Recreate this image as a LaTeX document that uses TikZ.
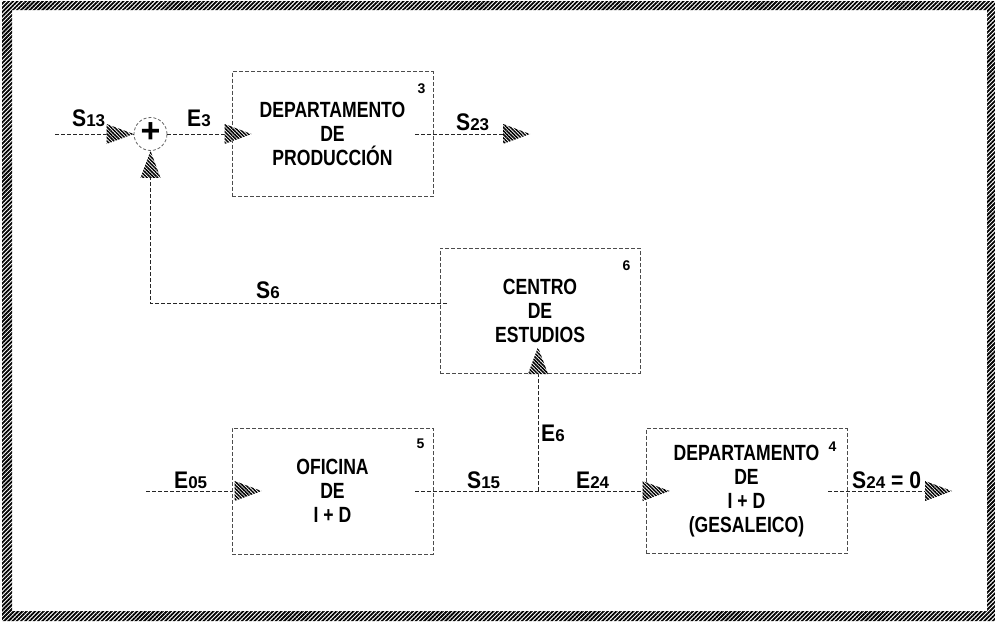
\documentclass[tikz,border=0pt]{standalone}
\usepackage{fontspec}
\setmainfont{Liberation Sans}[FakeStretch=0.8]
\newfontfamily\plainsans{Liberation Sans}
\newfontfamily\labfont{Liberation Sans}[FakeStretch=0.88]
\usetikzlibrary{patterns.meta,calc}
\newcommand{\sig}[2]{{\fontsize{24}{24}\selectfont #1}{\plainsans\bfseries\fontsize{17}{17}\selectfont #2}}
\tikzset{
  hatchtip/.pic={
    \fill[white] (0,0) -- (-27,-10) -- (-27,10) -- cycle;
    \fill[pattern={Lines[angle=-45,distance=2.5pt,line width=1.5pt]}] (0,0) -- (-27,-10) -- (-27,10) -- cycle;
  },
  conn/.style={draw=black!85, line width=0.9pt, dash pattern=on 4pt off 2pt},
  boxnode/.style={draw=black!70, line width=0.9pt, dash pattern=on 4pt off 2pt,
    minimum width=201pt, minimum height=125pt, align=center, inner sep=0pt,
    font=\bfseries\fontsize{22}{24}\selectfont},
  num/.style={font=\plainsans\bfseries\fontsize{14}{14}\selectfont, inner sep=0pt},
  lab/.style={font=\labfont\bfseries, inner sep=0pt, anchor=base west},
}
\begin{document}
\begin{tikzpicture}[x=1pt,y=-1pt]
\useasboundingbox (0,0) rectangle (995,621);
% frame
\fill[pattern={Lines[angle=45,distance=3pt,line width=1.8pt]}, even odd rule]
  (2,1) rectangle (995,621) (12,10) rectangle (987,611);

% boxes
\node[boxnode] (box3) at (332.5,134) {DEPARTAMENTO\\DE\\PRODUCCIÓN};
\node[boxnode, minimum width=200pt] (box6) at (540,310.5) {CENTRO\\DE\\ESTUDIOS};
\node[boxnode, minimum height=126pt] (box5) at (332.5,491) {OFICINA\\DE\\I + D};
\node[boxnode] (box4) at (746.5,491) {DEPARTAMENTO\\DE\\I + D\\(GESALEICO)};

\node[num] (n3) at ($(box3.north east)+(-12,18)$) {3};
\node[num] (n6) at ($(box6.north east)+(-14,18)$) {6};
\node[num] (n5) at ($(box5.north east)+(-13,16)$) {5};
\node[num] (n4) at ($(box4.north east)+(-15,19)$) {4};

% summing junction
\node[circle, draw=black!60, line width=0.8pt, dash pattern=on 3pt off 2pt,
  minimum size=33pt, inner sep=0pt] (sum) at (150.5,134) {};
\node[inner sep=0pt, font=\plainsans\bfseries\fontsize{34}{34}\selectfont] (plus) at (150.5,133) {+};

% coordinates
\coordinate (s13in) at (55,134);
\coordinate (s23a) at ($(box3.east)+(-18,0)$);
\coordinate (s23tip) at (530,134);
\coordinate (s6a) at (447,303);
\coordinate (e6foot) at (538,491);
\coordinate (e05in) at (146,491);
\coordinate (s15a) at ($(box5.east)+(-18,0)$);
\coordinate (s24a) at ($(box4.east)+(-19,0)$);
\coordinate (s24tip) at (952,491);

% connectors
\draw[conn] (s13in) -- (sum.west);
\draw[conn] (sum.east) -- (box3.west);
\draw[conn] (s23a) -- ($(s23tip)+(-27,0)$);
\draw[conn] (s6a) -- (s6a -| sum) -- (sum.south);
\draw[conn] (e6foot) -- (e6foot |- box6.south);
\draw[conn] (e05in) -- (box5.west);
\draw[conn] (s15a) -- (box4.west);
\draw[conn] (s24a) -- ($(s24tip)+(-27,0)$);

% arrowheads
\pic at (sum.west) {hatchtip};
\pic at ($(box3.west)+(20,0)$) {hatchtip};
\pic at (s23tip) {hatchtip};
\pic[rotate=90] at (sum.south) {hatchtip};
\pic[rotate=90] at (538,347) {hatchtip};
\pic at ($(box5.west)+(30,0)$) {hatchtip};
\pic at ($(box4.west)+(24,0)$) {hatchtip};
\pic at (s24tip) {hatchtip};

% labels
\node[lab] (ls13) at (72,126) {\sig{S}{13}};
\node[lab] (le3) at (187,126) {\sig{E}{3}};
\node[lab] (ls23) at (456,130) {\sig{S}{23}};
\node[lab] (ls6) at (256,298) {\sig{S}{6}};
\node[lab] (le6) at (541,441) {\sig{E}{6}};
\node[lab] (le05) at (174,488) {\sig{E}{05}};
\node[lab] (ls15) at (467,488) {\sig{S}{15}};
\node[lab] (le24) at (576,488) {\sig{E}{24}};
\node[lab] (ls24) at (852,488) {\sig{S}{24}{\fontsize{24}{24}\selectfont\ = 0}};
\end{tikzpicture}
\end{document}
